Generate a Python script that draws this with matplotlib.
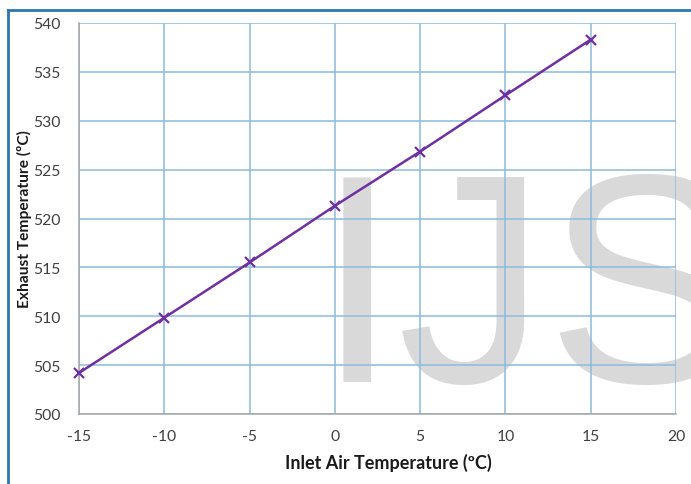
import matplotlib.pyplot as plt
from matplotlib.lines import Line2D

plt.rcParams['axes.unicode_minus'] = False

# data
inlet_temp = [-15, -10, -5, 0, 5, 10, 15]
exhaust_temp = [504.2, 509.85, 515.5, 521.3, 526.85, 532.6, 538.3]
x_ticks = [-15, -10, -5, 0, 5, 10, 15, 20]
y_ticks = [500, 505, 510, 515, 520, 525, 530, 535, 540]

fig = plt.figure(figsize=(6.91, 4.85), dpi=100)
ax = fig.add_axes([79 / 691, 70 / 485, 597 / 691, 391 / 485])
ax.patch.set_alpha(0)

# watermark behind the grid
fig.text(316 / 691, 103 / 485, 'IJS', fontsize=214, family='Liberation Sans',
         color='#d9d9d9', va='baseline', ha='left', zorder=-5)

# outer blue frame (top and left edge)
fig.add_artist(Line2D([8 / 691, 1], [1 - 11 / 485, 1 - 11 / 485], color='#2e75b6', lw=2))
fig.add_artist(Line2D([8 / 691, 8 / 691], [0, 1 - 11 / 485], color='#2e75b6', lw=2))

ax.plot(inlet_temp, exhaust_temp, color='#7030a0', lw=1.8, marker='x', ms=7,
        mew=1.6, zorder=3, clip_on=False)

ax.set_xlim(-15, 20)
ax.set_ylim(500, 540)
ax.set_xticks(x_ticks)
ax.set_yticks(y_ticks)
ax.grid(True, color='#8dbbdd', lw=1.1)
ax.set_axisbelow(True)
for side in ['top', 'right']:
    ax.spines[side].set_visible(False)
for side in ['left', 'bottom']:
    ax.spines[side].set_color('#a6a6a6')
    ax.spines[side].set_linewidth(1.1)
    ax.spines[side].set_zorder(2.6)

ax.tick_params(length=0, labelsize=11.3, labelcolor='#404040')
ax.tick_params(axis='x', pad=11)
ax.tick_params(axis='y', pad=13)
for lab in ax.get_xticklabels() + ax.get_yticklabels():
    lab.set_family('Lato')

ax.set_xlabel('Inlet Air Temperature (ºC)', family='Lato', fontsize=13,
              fontweight='bold', color='#1a1a1a', labelpad=7, x=0.518)
ax.set_ylabel('Exhaust Temperature (ºC)', family='Lato', fontsize=11.2,
              fontweight='bold', color='#1a1a1a', labelpad=1)

fig.savefig('out.png', dpi=100)
